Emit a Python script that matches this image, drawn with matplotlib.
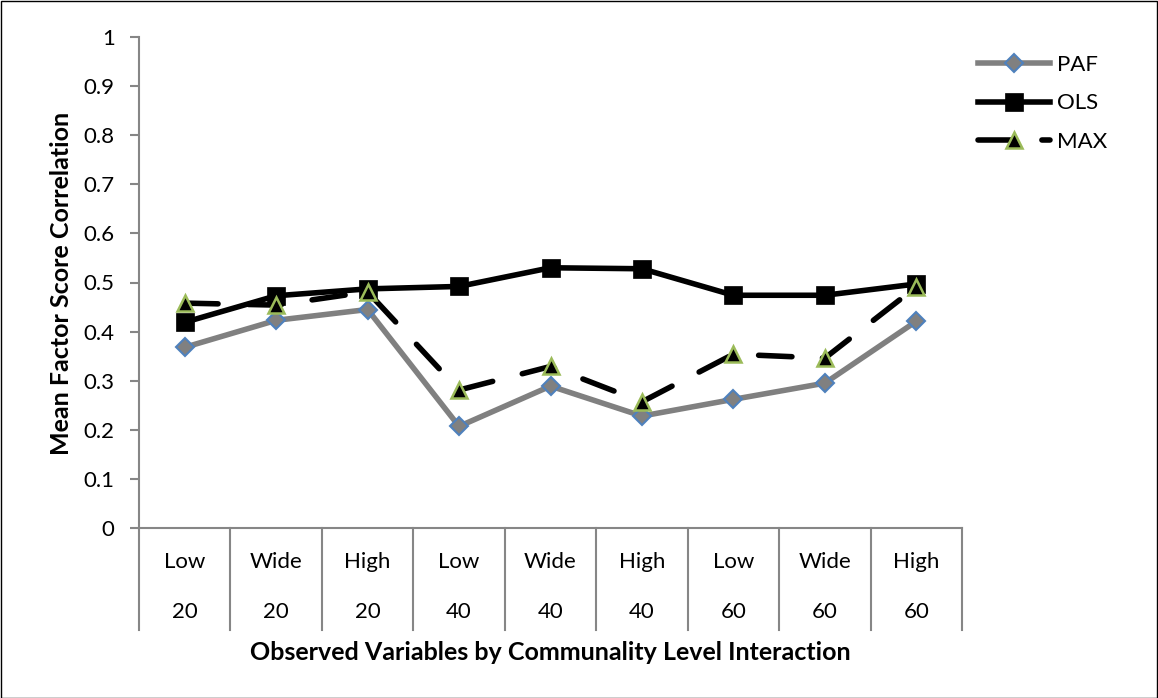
import matplotlib
matplotlib.use("Agg")
import matplotlib.pyplot as plt
from matplotlib.patches import Rectangle
import matplotlib.transforms as mtransforms

plt.rcParams['font.family'] = ['Lato', 'DejaVu Sans']

levels = ["Low", "Wide", "High", "Low", "Wide", "High", "Low", "Wide", "High"]
nvars = ["20", "20", "20", "40", "40", "40", "60", "60", "60"]
paf = [0.368, 0.423, 0.445, 0.207, 0.289, 0.228, 0.262, 0.295, 0.421]
ols = [0.419, 0.473, 0.487, 0.492, 0.530, 0.528, 0.474, 0.474, 0.497]
mx = [0.458, 0.454, 0.481, 0.281, 0.329, 0.257, 0.354, 0.346, 0.491]
yticks = [0, 0.1, 0.2, 0.3, 0.4, 0.5, 0.6, 0.7, 0.8, 0.9, 1]
ytick_labels = ["0", "0.1", "0.2", "0.3", "0.4", "0.5", "0.6", "0.7", "0.8", "0.9", "1"]

TICK_FS = 16
TITLE_FS = 18

W, H = 1158, 698
fig = plt.figure(figsize=(W / 100, H / 100), dpi=100)
left, right, top, bottom = 139, 962, 37, 528
ax = fig.add_axes([left / W, 1 - bottom / H, (right - left) / W, (bottom - top) / H])

x = list(range(len(levels)))
ax.plot(x, paf, color='#808080', lw=4, marker='D', ms=9, mfc='#808080',
        mec='#4F81BD', mew=1.5, label='PAF', zorder=3)
ax.plot(x, ols, color='black', lw=4, marker='s', ms=13, mfc='black',
        mec='black', mew=0.5, label='OLS', zorder=4)
ax.plot(x, mx, color='black', lw=4, marker='^', ms=12, mfc='black',
        mec='#9BBB59', mew=1.8, label='MAX', dashes=(6, 5.5),
        dash_capstyle='round', zorder=5)

ax.set_xlim(-0.5, len(levels) - 0.5)
ax.set_ylim(0, 1)
ax.set_yticks(yticks)
ax.set_yticklabels(ytick_labels, fontsize=TICK_FS)
ax.set_xticks([])
for s in ['top', 'right']:
    ax.spines[s].set_visible(False)
for s in ['left', 'bottom']:
    ax.spines[s].set_color('#868686')
    ax.spines[s].set_linewidth(1.5)
ax.tick_params(axis='y', length=6.5, width=1.5, color='#868686', pad=11)

# category separators and labels
trans = mtransforms.blended_transform_factory(ax.transData, ax.transAxes)
sep_bottom = -(630 - bottom) / (bottom - top)
for i in range(len(levels) + 1):
    xb = i - 0.5
    ax.plot([xb, xb], [0, sep_bottom], transform=trans, color='#868686',
            lw=1.5, clip_on=False)
row1 = -(562 - bottom) / (bottom - top)
row2 = -(612 - bottom) / (bottom - top)
for i, (lv, nv) in enumerate(zip(levels, nvars)):
    ax.text(i, row1, lv, transform=trans, ha='center', va='center', fontsize=TICK_FS)
    ax.text(i, row2, nv, transform=trans, ha='center', va='center', fontsize=TICK_FS)

fig.text(550 / W, 1 - 653 / H, "Observed Variables by Communality Level Interaction",
         ha='center', va='center', fontsize=TITLE_FS, fontweight='bold')
fig.text(62 / W, 1 - 283 / H, "Mean Factor Score Correlation", rotation=90,
         ha='center', va='center', fontsize=TITLE_FS, fontweight='bold')

fig.legend(loc='upper left', bbox_to_anchor=(978 / W, 1 - 55 / H), frameon=False,
           fontsize=TICK_FS, handlelength=3.25, handletextpad=0.3, labelspacing=0.83,
           borderaxespad=0, borderpad=0)

fig.patches.append(Rectangle((0.5 / W, 0.5 / H), (W - 1.5) / W, (H - 1.5) / H,
                             transform=fig.transFigure, fill=False,
                             edgecolor='black', lw=1))

fig.savefig("out.png", dpi=100)
